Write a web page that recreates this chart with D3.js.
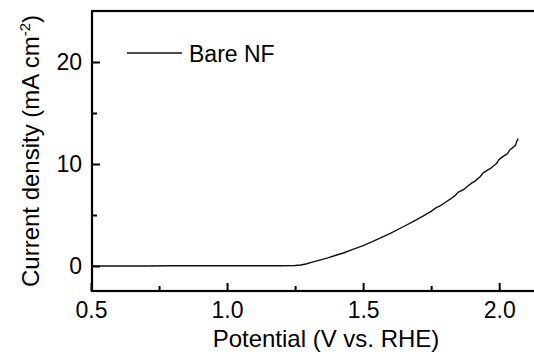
<!DOCTYPE html>
<html>
<head>
<meta charset="utf-8">
<script src="https://cdn.jsdelivr.net/npm/d3@7"></script>
<style>
  body { margin: 0; background: #fff; }
  svg { display: block; font-family: "Liberation Sans", Arial, sans-serif; }
</style>
</head>
<body>
<svg id="chart" width="534" height="363"></svg>
<script>
// LSV curve of bare nickel foam
const potential = [0.50, 0.60, 0.70, 0.80, 0.90, 1.00, 1.10, 1.20, 1.25, 1.27, 1.29, 1.31, 1.33, 1.35,
  1.37, 1.40, 1.43, 1.46, 1.50, 1.53, 1.56, 1.60, 1.64, 1.68, 1.72, 1.75, 1.77, 1.78, 1.80, 1.82,
  1.84, 1.85, 1.87, 1.88, 1.90, 1.91, 1.93, 1.94, 1.96, 1.97, 1.99, 2.00, 2.02, 2.03, 2.04, 2.05,
  2.06, 2.065, 2.07];
const current = [0.00, 0.00, 0.00, 0.02, 0.02, 0.03, 0.03, 0.03, 0.05, 0.10, 0.20, 0.35, 0.50, 0.65,
  0.80, 1.05, 1.30, 1.60, 2.00, 2.35, 2.70, 3.20, 3.75, 4.30, 4.90, 5.35, 5.75, 5.85, 6.20, 6.55,
  6.95, 7.25, 7.50, 7.75, 8.15, 8.30, 8.75, 9.10, 9.45, 9.60, 10.05, 10.45, 10.85, 11.00, 11.40, 11.60,
  11.85, 12.25, 12.50];
const xTicks = [0.5, 1.0, 1.5, 2.0];
const yTicks = [0, 10, 20];
const seriesName = "Bare NF";

let margin = {left: 92, top: 11, bottom: 291, right: 542};

let svg = d3.select("#chart");

let x = d3.scaleLinear().domain([0.5, 2.15]).range([91, 540]);
let y = d3.scaleLinear().domain([-2.5, 25]).range([291.5, 11]);

// minor ticks
let xMinor = d3.axisBottom(x).tickValues([0.75, 1.25, 1.75]).tickSize(-5).tickFormat("");
let yMinor = d3.axisLeft(y).tickValues([5, 15]).tickSize(-5).tickFormat("");

svg.append("g").attr("transform", "translate(0," + margin.bottom + ")").call(xMinor);
svg.append("g").attr("transform", "translate(" + margin.left + ",0)").call(yMinor);

// major ticks with labels
let xAxis = d3.axisBottom(x).tickValues(xTicks).tickSize(-8).tickPadding(11)
  .tickFormat(d3.format(".1f"));
let yAxis = d3.axisLeft(y).tickValues(yTicks).tickSize(-8).tickPadding(10)
  .tickFormat(d3.format("d"));

svg.append("g").attr("transform", "translate(0," + margin.bottom + ")").call(xAxis);
svg.append("g").attr("transform", "translate(" + margin.left + ",0)").call(yAxis);

svg.selectAll(".domain").remove();
svg.selectAll(".tick line").attr("stroke", "#000").attr("stroke-width", 2);
svg.selectAll(".tick text").attr("fill", "#000").style("font-size", "23px")
  .style("font-family", "'Liberation Sans', Arial, sans-serif");

// frame
svg.append("rect")
  .attr("x", margin.left)
  .attr("y", margin.top)
  .attr("width", margin.right - margin.left)
  .attr("height", margin.bottom - margin.top)
  .attr("fill", "none")
  .attr("stroke", "#000")
  .attr("stroke-width", 2.2);

// curve
let line = d3.line()
  .x((d, i) => x(potential[i]))
  .y((d, i) => y(current[i]));

svg.append("path")
  .datum(current)
  .attr("d", line)
  .attr("fill", "none")
  .attr("stroke", "#111")
  .attr("stroke-width", 1.4)
  .attr("stroke-linejoin", "round");

// legend
svg.append("line")
  .attr("x1", 127).attr("x2", 182)
  .attr("y1", 53).attr("y2", 53)
  .attr("stroke", "#111")
  .attr("stroke-width", 1.4);
svg.append("text")
  .attr("x", 189)
  .attr("y", 62)
  .style("font-size", "23px")
  .text(seriesName);

// axis titles
svg.append("text")
  .attr("x", 326)
  .attr("y", 347)
  .attr("text-anchor", "middle")
  .style("font-size", "24px")
  .text("Potential (V vs. RHE)");

let yt = svg.append("text")
  .attr("transform", "translate(39,151) rotate(-90)")
  .attr("text-anchor", "middle")
  .style("font-size", "24px");
yt.append("tspan").text("Current density (mA cm");
yt.append("tspan").attr("dy", -9).style("font-size", "15px").text("-2");
yt.append("tspan").attr("dy", 9).text(")");
</script>
</body>
</html>
